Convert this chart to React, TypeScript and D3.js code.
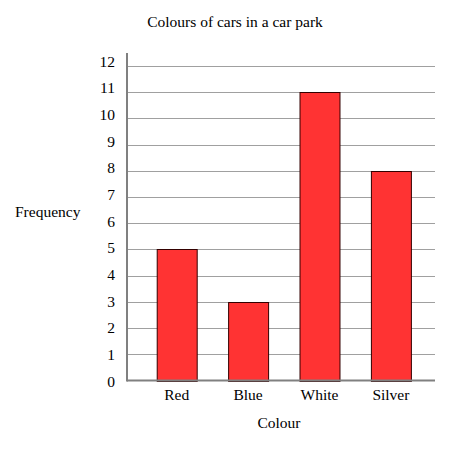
import { useEffect, useRef } from 'react'
import * as d3 from 'd3'

const colours = ['Red', 'Blue', 'White', 'Silver']
const frequencies = [5, 3, 11, 8]
const yTicks = [0, 1, 2, 3, 4, 5, 6, 7, 8, 9, 10, 11, 12]

export default function App() {
  const svgRef = useRef<SVGSVGElement>(null)

  useEffect(() => {
    if (!svgRef.current) return
    const svg = d3.select(svgRef.current)
    svg.selectAll('*').remove()

    const left = 127
    const right = 435
    const font = '"Liberation Serif", "Times New Roman", serif'
    const fontSize = '15.5px'

    const y = d3.scaleLinear().domain([0, 12]).range([380.5, 66])
    // tick labels drift slightly from the gridlines in the original
    const yLabel = d3.scaleLinear().domain([0, 12]).range([381, 61])

    const x = d3.scaleBand()
      .domain(colours)
      .range([141, 426.6])
      .paddingInner(0.44)
      .paddingOuter(0.22)

    // Gridlines
    svg.selectAll('.grid')
      .data(yTicks.filter(t => t > 0))
      .join('line')
      .attr('x1', left)
      .attr('x2', right)
      .attr('y1', d => Math.round(y(d)) + 0.5)
      .attr('y2', d => Math.round(y(d)) + 0.5)
      .attr('stroke', '#a0a0a0')
      .attr('stroke-width', 1)

    // Tick labels
    svg.selectAll('.tick-label')
      .data(yTicks)
      .join('text')
      .attr('x', 115)
      .attr('y', d => yLabel(d))
      .attr('text-anchor', 'end')
      .attr('dominant-baseline', 'central')
      .attr('font-family', font)
      .attr('font-size', fontSize)
      .attr('fill', '#000')
      .text(d => d)

    // Bars
    svg.selectAll('.bar')
      .data(frequencies)
      .join('rect')
      .attr('x', (_d, i) => (x(colours[i]) || 0) + 0.5)
      .attr('y', d => Math.round(y(d)) + 0.5)
      .attr('width', x.bandwidth())
      .attr('height', d => Math.round(y(0)) - Math.round(y(d)))
      .attr('fill', '#ff3333')
      .attr('stroke', '#330000')
      .attr('stroke-width', 1)

    // Axes
    svg.append('line')
      .attr('x1', left).attr('x2', left)
      .attr('y1', 53).attr('y2', y(0) + 1)
      .attr('stroke', '#808080')
      .attr('stroke-width', 2)
    svg.append('line')
      .attr('x1', left).attr('x2', right)
      .attr('y1', y(0)).attr('y2', y(0))
      .attr('stroke', '#808080')
      .attr('stroke-width', 2)

    // Category labels
    svg.selectAll('.cat')
      .data(colours)
      .join('text')
      .attr('x', d => (x(d) || 0) + x.bandwidth() / 2)
      .attr('y', 394)
      .attr('text-anchor', 'middle')
      .attr('dominant-baseline', 'central')
      .attr('font-family', font)
      .attr('font-size', fontSize)
      .attr('fill', '#000')
      .text(d => d)

    svg.append('text')
      .attr('x', 279)
      .attr('y', 422)
      .attr('text-anchor', 'middle')
      .attr('dominant-baseline', 'central')
      .attr('font-family', font)
      .attr('font-size', fontSize)
      .text('Colour')

    svg.append('text')
      .attr('x', 15)
      .attr('y', 211)
      .attr('dominant-baseline', 'central')
      .attr('font-family', font)
      .attr('font-size', fontSize)
      .text('Frequency')

    svg.append('text')
      .attr('x', 235)
      .attr('y', 21)
      .attr('text-anchor', 'middle')
      .attr('dominant-baseline', 'central')
      .attr('font-family', font)
      .attr('font-size', fontSize)
      .text('Colours of cars in a car park')
  }, [])

  return (
    <svg
      ref={svgRef}
      width={454}
      height={454}
      style={{ position: 'absolute', left: 0, top: 0, background: '#fff' }}
    />
  )
}
